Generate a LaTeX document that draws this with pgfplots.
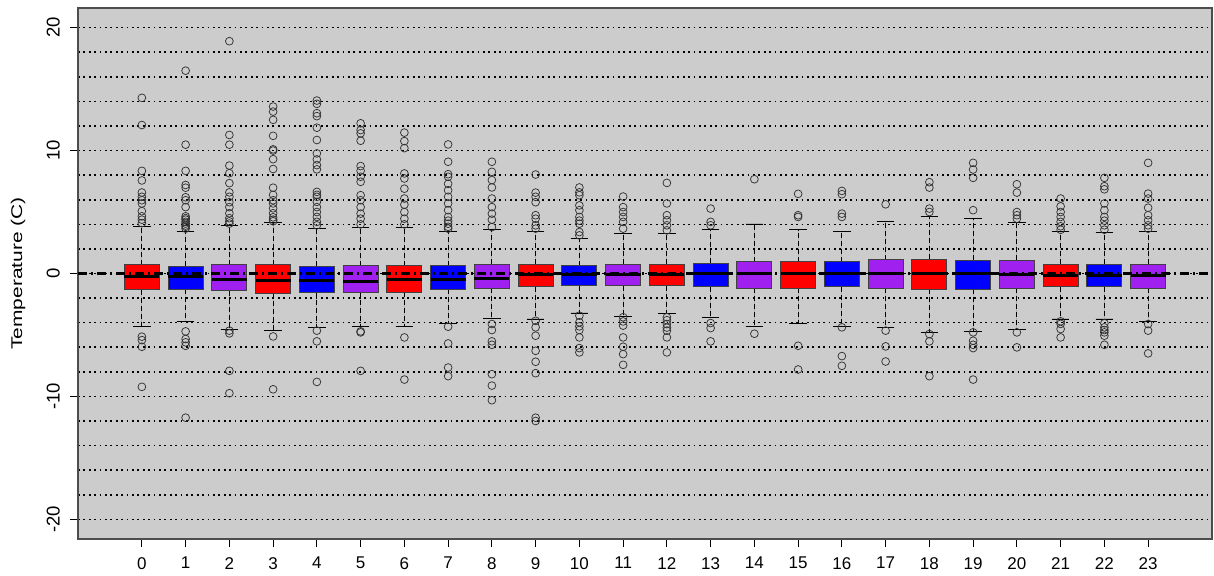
\documentclass[border=0pt]{standalone}
\usepackage{pgfplots}
\pgfplotsset{compat=1.18}
\usepgfplotslibrary{statistics}
\usepackage{fontspec}
\setmainfont{Liberation Sans}
\definecolor{bg}{HTML}{CCCCCC}
\definecolor{rred}{HTML}{FF0000}
\definecolor{rblue}{HTML}{0000FF}
\definecolor{rpurple}{HTML}{A020F0}
\definecolor{framec}{HTML}{4D4D4D}
% #1 position, #2 colour, #3 lower whisker, #4 lower quartile, #5 median, #6 upper quartile, #7 upper whisker, #8 outliers
\newcommand{\bxp}[8]{%
\addplot[boxplot prepared={draw position=#1, lower whisker=#3, lower quartile=#4, median=#5, upper quartile=#6, upper whisker=#7},
  fill=#2, draw=black!75, line width=0.8pt, mark=o, mark size=3.9pt,
  mark options={draw=black!80, line width=0.75pt, solid, fill=none}]
  table[row sep=\\, y index=0] {y\\ #8};}
\begin{document}
\begin{tikzpicture}
\useasboundingbox (0,0) rectangle (1214pt,575pt);
\begin{axis}[
  at={(78pt,36pt)}, anchor=south west,
  width=1134pt, height=531pt, scale only axis,
  xmin=-1.46, xmax=24.46, ymin=-21.6, ymax=21.6,
  axis background/.style={fill=bg},
  axis line style={draw=framec, line width=1.2pt},
  tick align=outside, xtick pos=left, ytick pos=left,
  major tick length=8pt, minor tick length=0pt,
  tick style={black, line width=0.9pt},
  xtick={0,1,...,23},
  xticklabels={0,1,2,3,4,5,6,7,8,9,10,11,12,13,14,15,16,17,18,19,20,21,22,23},
  ytick={-20,-10,0,10,20},
  yticklabels={-20,-10,0,10,20},
  minor ytick={-18,-16,-14,-12,-8,-6,-4,-2,2,4,6,8,12,14,16,18},
  ymajorgrids, yminorgrids,
  major grid style={black, line width=1.6pt, dash pattern=on 1.8pt off 3.6pt},
  minor grid style={black, line width=1.6pt, dash pattern=on 1.8pt off 3.6pt},
  xticklabel style={font=\fontsize{17}{20}\selectfont, inner sep=0pt, yshift=-10pt},
  yticklabel style={font=\fontsize{18.5}{21}\selectfont, inner sep=0pt, xshift=-10pt, rotate=90, anchor=south},
  ylabel={\scalebox{1.35}[1]{Temperature (C)}},
  every axis y label/.style={at={(rel axis cs:0,0.5)}, xshift=-60pt, rotate=90, anchor=center, font=\fontsize{15.5}{18}\selectfont},
  boxplot/draw direction=y,
  boxplot/box extend=0.8,
  boxplot/whisker extend=0.4,
  boxplot/every median/.style={draw=black, line width=3pt},
  boxplot/draw/lower whisker/.code={%
    \draw[black, line width=0.9pt, dash pattern=on 5pt off 3pt] (boxplot box cs:\pgfplotsboxplotvalue{lower quartile},0.5) -- (boxplot box cs:\pgfplotsboxplotvalue{lower whisker},0.5);
    \draw[black, line width=0.9pt, solid] (boxplot whisker cs:\pgfplotsboxplotvalue{lower whisker},0) -- (boxplot whisker cs:\pgfplotsboxplotvalue{lower whisker},1);},
  boxplot/draw/upper whisker/.code={%
    \draw[black, line width=0.9pt, dash pattern=on 5pt off 3pt] (boxplot box cs:\pgfplotsboxplotvalue{upper quartile},0.5) -- (boxplot box cs:\pgfplotsboxplotvalue{upper whisker},0.5);
    \draw[black, line width=0.9pt, solid] (boxplot whisker cs:\pgfplotsboxplotvalue{upper whisker},0) -- (boxplot whisker cs:\pgfplotsboxplotvalue{upper whisker},1);},
]
\bxp{0}{rred}{-4.3}{-1.31}{-0.27}{0.73}{3.84}{14.29\\ 12.08\\ 8.35\\ 7.57\\ 6.59\\ 6.24\\ 5.96\\ 5.7\\ 5.07\\ 4.65\\ 4.38\\ 4.1\\ -5.14\\ -5.42\\ -5.96\\ -9.22\\}
\bxp{1}{rblue}{-3.89}{-1.3}{-0.27}{0.6}{3.45}{16.5\\ 10.48\\ 8.35\\ 7.2\\ 6.98\\ 6.2\\ 5.96\\ 5.4\\ 4.65\\ 4.5\\ 4.38\\ 4.2\\ 4.06\\ 3.9\\ 3.8\\ 3.65\\ -4.71\\ -5.33\\ -5.6\\ -5.88\\ -11.73\\}
\bxp{2}{rpurple}{-4.52}{-1.39}{-0.49}{0.73}{3.9}{18.9\\ 11.27\\ 10.48\\ 8.78\\ 8.16\\ 7.35\\ 6.6\\ 6.24\\ 5.8\\ 5.4\\ 4.9\\ 4.5\\ 4.24\\ 4.06\\ -4.65\\ -4.87\\ -7.92\\ -9.74\\}
\bxp{3}{rred}{-4.6}{-1.58}{-0.6}{0.73}{4.14}{13.58\\ 13.17\\ 12.5\\ 11.2\\ 10.1\\ 10.0\\ 9.3\\ 8.5\\ 6.98\\ 6.4\\ 5.96\\ 5.7\\ 5.3\\ 4.9\\ 4.57\\ 4.38\\ 4.25\\ -5.12\\ -9.42\\}
\bxp{4}{rblue}{-4.41}{-1.5}{-0.6}{0.6}{3.67}{14.07\\ 13.8\\ 13.04\\ 12.8\\ 11.86\\ 10.86\\ 9.77\\ 9.28\\ 8.82\\ 8.47\\ 6.64\\ 6.4\\ 6.24\\ 5.83\\ 5.4\\ 5.0\\ 4.6\\ 4.2\\ 3.92\\ -4.65\\ -5.52\\ -8.82\\}
\bxp{5}{rpurple}{-4.3}{-1.5}{-0.68}{0.65}{3.78}{12.22\\ 11.67\\ 11.4\\ 10.8\\ 8.74\\ 8.36\\ 7.87\\ 7.46\\ 6.37\\ 5.96\\ 5.4\\ 4.87\\ 4.46\\ 4.0\\ -4.71\\ -4.79\\ -7.92\\}
\bxp{6}{rred}{-4.3}{-1.5}{-0.49}{0.65}{3.78}{11.46\\ 10.77\\ 10.2\\ 8.14\\ 7.73\\ 6.9\\ 6.1\\ 5.6\\ 5.0\\ 4.46\\ 4.0\\ -5.2\\ -8.63\\}
\bxp{7}{rblue}{-4.05}{-1.3}{-0.49}{0.65}{3.45}{10.5\\ 9.09\\ 8.08\\ 7.87\\ 7.3\\ 6.77\\ 6.24\\ 5.7\\ 5.15\\ 4.6\\ 4.3\\ 4.05\\ 3.8\\ 3.65\\ -4.33\\ -5.69\\ -7.65\\ -8.35\\}
\bxp{8}{rpurple}{-3.67}{-1.2}{-0.38}{0.76}{3.56}{9.09\\ 8.27\\ 7.6\\ 7.0\\ 6.1\\ 5.4\\ 4.87\\ 4.38\\ 3.78\\ -4.11\\ -4.6\\ -5.52\\ -5.8\\ -8.19\\ -9.12\\ -10.31\\}
\bxp{9}{rred}{-3.7}{-1.09}{-0.08}{0.76}{3.45}{8.05\\ 6.58\\ 6.24\\ 5.8\\ 4.74\\ 4.46\\ 3.92\\ 3.65\\ -3.85\\ -4.38\\ -5.06\\ -6.29\\ -7.18\\ -8.11\\ -11.73\\ -12.0\\}
\bxp{10}{rblue}{-3.21}{-1.0}{-0.1}{0.65}{2.83}{7.0\\ 6.6\\ 6.37\\ 5.54\\ 5.15\\ 4.6\\ 4.3\\ 4.05\\ 3.37\\ 3.1\\ -3.43\\ -3.97\\ -4.3\\ -4.6\\ -5.2\\ -6.07\\ -6.42\\}
\bxp{11}{rpurple}{-3.46}{-1.0}{-0.08}{0.76}{3.24}{6.26\\ 5.4\\ 5.0\\ 4.6\\ 4.2\\ 3.65\\ -3.56\\ -3.9\\ -4.24\\ -5.2\\ -5.96\\ -6.56\\ -7.43\\}
\bxp{12}{rred}{-3.29}{-1.0}{-0.08}{0.76}{3.24}{7.37\\ 5.7\\ 4.74\\ 4.33\\ 3.92\\ 3.51\\ -3.56\\ -3.8\\ -4.11\\ -4.4\\ -4.65\\ -5.2\\ -6.42\\}
\bxp{13}{rblue}{-3.56}{-1.09}{-0.03}{0.84}{3.56}{5.28\\ 4.2\\ 3.92\\ -4.03\\ -4.44\\ -5.52\\}
\bxp{14}{rpurple}{-4.3}{-1.2}{0}{0.95}{4.03}{7.67\\ -4.9\\}
\bxp{15}{rred}{-4.05}{-1.2}{0}{0.95}{3.56}{6.48\\ 4.74\\ 4.6\\ -5.88\\ -7.81\\}
\bxp{16}{rblue}{-4.3}{-1.09}{0}{0.95}{3.45}{6.72\\ 6.45\\ 4.87\\ 4.6\\ -4.38\\ -6.72\\ -7.51\\}
\bxp{17}{rpurple}{-4.41}{-1.2}{0}{1.12}{4.24}{5.63\\ -4.65\\ -5.93\\ -7.16\\}
\bxp{18}{rred}{-4.76}{-1.3}{0}{1.17}{4.65}{7.43\\ 6.99\\ 5.28\\ 5.0\\ -4.93\\ -5.52\\ -8.35\\}
\bxp{19}{rblue}{-4.68}{-1.3}{0}{1.06}{4.46}{9.0\\ 8.46\\ 7.78\\ 5.15\\ -4.79\\ -5.47\\ -5.8\\ -6.07\\ -8.63\\}
\bxp{20}{rpurple}{-4.52}{-1.2}{-0.05}{1.06}{4.14}{7.26\\ 6.58\\ 5.0\\ 4.74\\ 4.46\\ -4.79\\ -6.01\\}
\bxp{21}{rred}{-3.7}{-1.09}{-0.19}{0.76}{3.45}{6.1\\ 5.46\\ 5.0\\ 4.6\\ 4.2\\ 3.84\\ 3.56\\ -3.89\\ -4.1\\ -4.52\\ -5.2\\}
\bxp{22}{rblue}{-3.7}{-1.09}{-0.19}{0.76}{3.35}{7.78\\ 7.1\\ 6.85\\ 5.7\\ 5.15\\ 4.6\\ 4.3\\ 3.92\\ 3.56\\ -4.05\\ -4.38\\ -4.6\\ -4.79\\ -5.06\\ -5.8\\}
\bxp{23}{rpurple}{-3.89}{-1.2}{-0.19}{0.76}{3.45}{9.0\\ 6.5\\ 6.1\\ 5.35\\ 4.74\\ 4.33\\ 3.92\\ 3.65\\ -4.11\\ -4.65\\ -6.5\\}
\addplot[black, line width=2.2pt, dash pattern=on 9pt off 4pt on 2pt off 4pt, mark=none] coordinates {(-1.46,0) (24.46,0)};
\end{axis}
\end{tikzpicture}
\end{document}
